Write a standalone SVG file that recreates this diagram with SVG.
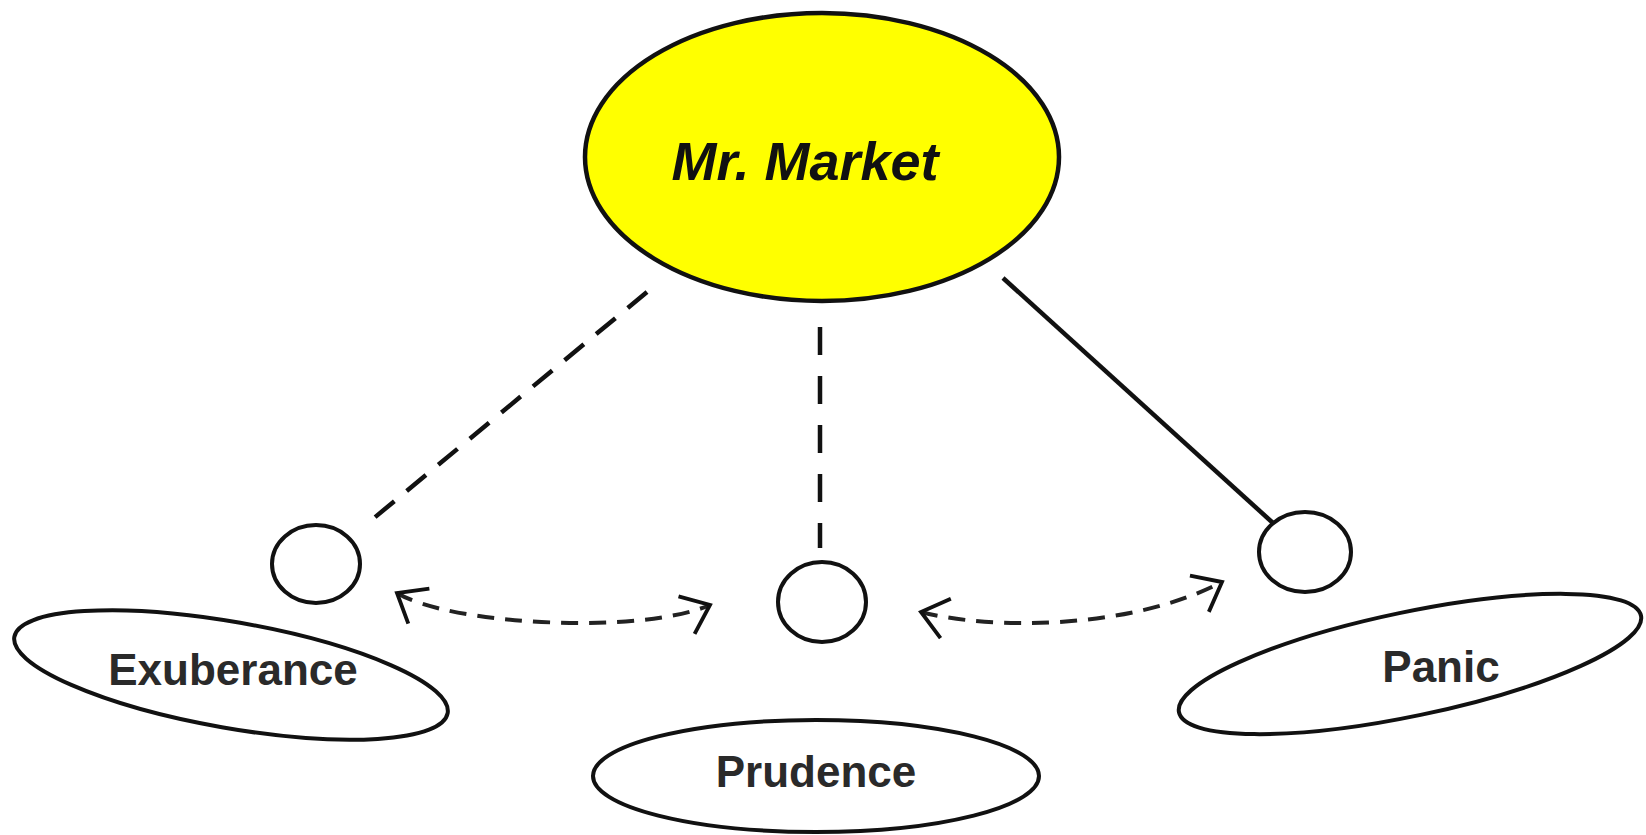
<svg xmlns="http://www.w3.org/2000/svg" width="1646" height="835" viewBox="0 0 1646 835">
  <style>
    .node { fill: #ffffff; stroke: #111111; stroke-width: 4; }
    .label { font-family: "Liberation Sans", Arial, sans-serif; font-weight: bold; font-size: 44px; fill: #2a2a2a; text-anchor: middle; }
    .conn { fill: none; stroke: #111111; stroke-width: 4.5; }
    .arrow { fill: none; stroke: #222222; stroke-width: 4; stroke-dasharray: 17 11; }
  </style>
  <defs>
    <marker id="vhead" viewBox="-2 -10 14 20" refX="10" refY="0" markerWidth="36" markerHeight="51" markerUnits="userSpaceOnUse" orient="auto-start-reverse">
      <path d="M0,-8 L10,0 L0,8" fill="none" stroke="#111111" stroke-width="1.5" stroke-linejoin="miter"/>
    </marker>
  </defs>
  <rect width="1646" height="835" fill="#ffffff"/>

  <g id="connectors">
    <line class="conn" x1="647" y1="292" x2="368" y2="523" stroke-dasharray="25 16"/>
    <line class="conn" x1="820" y1="327" x2="820" y2="548" stroke-dasharray="28 21"/>
    <line class="conn" x1="1003" y1="278" x2="1273" y2="523" stroke-width="4"/>
    <path class="arrow" d="M397,593 C450,625 640,635 710,605" marker-start="url(#vhead)" marker-end="url(#vhead)"/>
    <path class="arrow" d="M921,612 C990,630 1130,630 1222,582" marker-start="url(#vhead)" marker-end="url(#vhead)"/>
  </g>

  <g id="mr-market">
    <ellipse cx="822" cy="157" rx="237" ry="144" fill="#ffff00" stroke="#111111" stroke-width="4.5"/>
    <text x="805" y="180" font-family="Liberation Sans, Arial, sans-serif" font-weight="bold" font-style="italic" font-size="54" fill="#111111" text-anchor="middle">Mr. Market</text>
  </g>

  <g id="exuberance">
    <ellipse class="node" cx="316" cy="564" rx="44" ry="39"/>
    <ellipse class="node" cx="231" cy="675" rx="220" ry="53" transform="rotate(10 231 675)"/>
    <text class="label" x="233" y="685">Exuberance</text>
  </g>

  <g id="prudence">
    <ellipse class="node" cx="822" cy="602" rx="44" ry="40"/>
    <ellipse class="node" cx="816" cy="776" rx="223" ry="56"/>
    <text class="label" x="816" y="787">Prudence</text>
  </g>

  <g id="panic">
    <ellipse class="node" cx="1305" cy="552" rx="46" ry="40"/>
    <ellipse class="node" cx="1410" cy="664" rx="236" ry="52" transform="rotate(-11.8 1410 664)"/>
    <text class="label" x="1441" y="682">Panic</text>
  </g>
</svg>
